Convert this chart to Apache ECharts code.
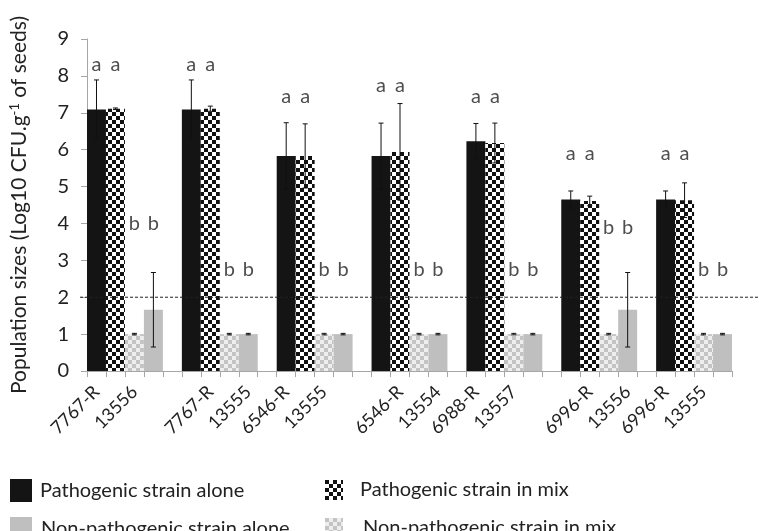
<!DOCTYPE html>
<html>
<head>
<meta charset="utf-8">
<script src="https://cdn.jsdelivr.net/npm/echarts@6/dist/echarts.min.js"></script>
<style>html,body{margin:0;padding:0;background:#fff}#c{width:759px;height:531px}</style>
</head>
<body>
<div id="c"></div>
<script>
// ---- data ----
const pathogens    = ['7767-R','7767-R','6546-R','6546-R','6988-R','6996-R','6996-R'];
const nonPathogens = ['13556','13555','13555','13554','13557','13556','13555'];
const pathAlone    = [7.09, 7.09, 5.83, 5.83, 6.23, 4.65, 4.65];
const pathAloneErr = [0.80, 0.80, 0.90, 0.89, 0.48, 0.23, 0.23];
const pathMix      = [7.11, 7.11, 5.83, 5.94, 6.18, 4.61, 4.63];
const pathMixErr   = [0.02, 0.07, 0.87, 1.31, 0.54, 0.13, 0.47];
const nonMix       = [1.00, 1.00, 1.00, 1.00, 1.00, 1.00, 1.00];
const nonMixErr    = [0.02, 0.02, 0.02, 0.02, 0.02, 0.02, 0.02];
const nonAlone     = [1.66, 1.00, 1.00, 1.00, 1.00, 1.66, 1.00];
const nonAloneErr  = [1.01, 0.02, 0.02, 0.02, 0.02, 1.01, 0.02];
const letterAY     = [8.3, 8.3, 7.45, 7.75, 7.45, 5.9, 5.9];
const letterBY     = [4.0, 2.75, 2.75, 2.75, 2.75, 3.9, 2.75];
const threshold    = 2;
const yTicks       = [0,1,2,3,4,5,6,7,8,9];
const seriesNames  = ['Pathogenic strain alone','Pathogenic strain in mix','Non-pathogenic strain in mix','Non-pathogenic strain alone'];

// ---- build categories: per group [p, p, n, n, gap] ----
const SLOTS = 5;
const categories = [];
pathogens.forEach((p, g) => {
  categories.push(p, p, nonPathogens[g], nonPathogens[g]);
  if (g < pathogens.length - 1) categories.push('');
});
function slotSeries(vals, offset) {
  const arr = categories.map(() => '-');
  vals.forEach((v, g) => { arr[g * SLOTS + offset] = v; });
  return arr;
}
const errData = [];
[[pathAlone, pathAloneErr], [pathMix, pathMixErr], [nonMix, nonMixErr], [nonAlone, nonAloneErr]].forEach(([v, e], k) => {
  v.forEach((val, g) => errData.push([g * SLOTS + k, val - e[g], val + e[g]]));
});
const letterData = [];
pathogens.forEach((p, g) => {
  letterData.push([g * SLOTS + 0, letterAY[g], 'a'], [g * SLOTS + 1, letterAY[g], 'a']);
  letterData.push([g * SLOTS + 2, letterBY[g], 'b'], [g * SLOTS + 3, letterBY[g], 'b']);
});

function checker(c1, c2, s) {
  const cv = document.createElement('canvas');
  cv.width = s * 2; cv.height = s * 2;
  const ctx = cv.getContext('2d');
  ctx.fillStyle = c2; ctx.fillRect(0, 0, s * 2, s * 2);
  ctx.fillStyle = c1; ctx.fillRect(0, 0, s, s); ctx.fillRect(s, s, s, s);
  return { image: cv, repeat: 'repeat' };
}
const FONT = 'Lato';
const colors = ['#141414', checker('#111111', '#ffffff', 4), checker('#c4c4c4', '#eeeeee', 4), '#bfbfbf'];

const chart = echarts.init(document.getElementById('c'), null, { renderer: 'canvas' });
const barSeries = [pathAlone, pathMix, nonMix, nonAlone].map((vals, k) => ({
  name: seriesNames[k], type: 'bar', data: slotSeries(vals, k),
  barGap: '-100%', barCategoryGap: '0%',
  itemStyle: { color: colors[k] }, z: 2
}));
function legendItem(name, left, top, w, h, gapPad) {
  return { left: left, top: top, padding: 0, orient: 'horizontal', icon: 'rect',
    itemWidth: w, itemHeight: h, data: [name], selectedMode: false,
    textStyle: { fontFamily: FONT, fontSize: 20, color: '#222', padding: [0, 0, 0, gapPad] } };
}
chart.setOption({
  animation: false,
  textStyle: { fontFamily: FONT },
  grid: { left: 87, right: 27, top: 39, bottom: 160, containLabel: false },
  legend: [
    legendItem(seriesNames[0], 10, 479, 22, 23, 3),
    legendItem(seriesNames[3], 10, 517, 22, 23, 4),
    legendItem(seriesNames[1], 325, 480, 18, 20, 12),
    legendItem(seriesNames[2], 325, 518, 18, 20, 15)
  ],
  xAxis: {
    type: 'category', data: categories, boundaryGap: true,
    axisLine: { lineStyle: { color: '#a6a6a6', width: 1 } },
    axisTick: { show: true, interval: 0, length: 6, lineStyle: { color: '#a6a6a6' } },
    axisLabel: { interval: 1, rotate: 45, margin: 18, fontFamily: FONT, fontSize: 18, color: '#222' },
    splitLine: { show: false }
  },
  yAxis: {
    type: 'value', min: yTicks[0], max: yTicks[yTicks.length - 1], interval: 1,
    name: 'Population sizes (Log10 CFU.g{sup|-1} of seeds)',
    nameLocation: 'middle', nameGap: 56, nameRotate: 90,
    nameTextStyle: { fontFamily: FONT, fontSize: 21, color: '#222',
      rich: { sup: { fontFamily: FONT, fontSize: 13, color: '#222', padding: [0, 0, 10, 0] } } },
    axisLine: { show: true, lineStyle: { color: '#a6a6a6' } },
    axisTick: { show: true, length: 6, lineStyle: { color: '#a6a6a6' } },
    axisLabel: { margin: 18, fontFamily: FONT, fontSize: 20, color: '#222' },
    splitLine: { show: false }
  },
  series: barSeries.concat([
    {
      type: 'custom', name: 'err', data: errData, z: 5, silent: true,
      renderItem: (params, api) => {
        const x = api.coord([api.value(0), api.value(1)])[0];
        const y0 = api.coord([api.value(0), api.value(1)])[1];
        const y1 = api.coord([api.value(0), api.value(2)])[1];
        const hw = 2.5;
        const st = { stroke: '#111', lineWidth: 1 };
        return { type: 'group', children: [
          { type: 'line', shape: { x1: x, y1: y0, x2: x, y2: y1 }, style: st },
          { type: 'line', shape: { x1: x - hw, y1: y1, x2: x + hw, y2: y1 }, style: st },
          { type: 'line', shape: { x1: x - hw, y1: y0, x2: x + hw, y2: y0 }, style: st }
        ]};
      }
    },
    {
      type: 'custom', name: 'threshold', data: [[0, threshold]], z: 6, silent: true, clip: false,
      renderItem: (params, api) => {
        const p = api.coord([0, api.value(1)]);
        const w = api.size([1, 0])[0];
        const xs = p[0] - w / 2 - 7;
        return { type: 'line', shape: { x1: xs, y1: p[1], x2: api.getWidth(), y2: p[1] },
          style: { stroke: '#222', lineWidth: 1, lineDash: [3, 2] } };
      }
    },
    {
      type: 'scatter', name: 'letters', data: letterData, symbolSize: 0, z: 7, silent: true,
      label: { show: true, position: 'inside', formatter: (p) => p.value[2],
        fontFamily: FONT, fontSize: 20, color: '#222' }
    }
  ])
});
</script>
</body>
</html>
